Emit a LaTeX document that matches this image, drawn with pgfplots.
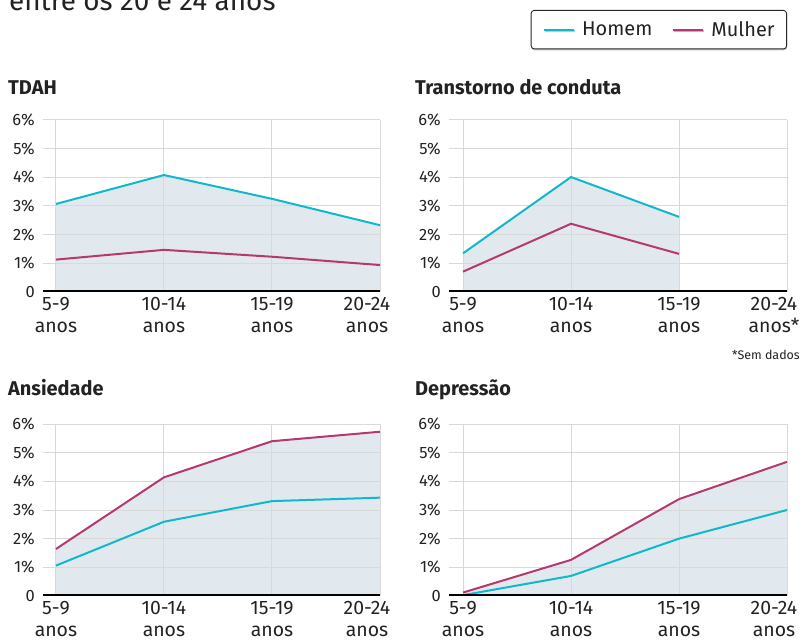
\documentclass[border=0pt]{standalone}
\usepackage{fontspec}
\setmainfont{Fira Sans}
\usepackage{pgfplots}
\usetikzlibrary{shadows}
\pgfplotsset{compat=1.18}
\definecolor{homem}{HTML}{10B8C9}
\definecolor{mulher}{HTML}{B5396F}
\definecolor{shade}{HTML}{E1E9EE}
\definecolor{gridc}{HTML}{D9D9D9}
\definecolor{txt}{HTML}{222222}
\pgfplotsset{
 panel/.style={
  set layers,
  scale only axis, width=337bp, height=172bp,
  anchor=south west,
  xmin=-0.12, xmax=3, ymin=0, ymax=6,
  axis line style={draw=none},
  tick style={draw=none},
  major tick length=0pt,
  xmajorgrids, ymajorgrids,
  grid style={gridc, line width=1bp},
  ytick={0,1,2,3,4,5,6}, yticklabels={0,1\%,2\%,3\%,4\%,5\%,6\%},
  yticklabel style={font=\fontsize{16.5}{18}\selectfont, text=txt, inner sep=0pt, xshift=-8bp},
  xtick={0,1,2}, xticklabels={{5-9\\anos},{10-14\\anos},{15-19\\anos}},
  xticklabel style={font=\fontsize{19.5}{22}\selectfont, text=txt, align=center, inner sep=0pt, yshift=-5bp},
  extra x ticks={3}, extra x tick labels={{20-24\\anos}},
  extra x tick style={grid=major, xticklabel style={xshift=-13bp}},
 },
 hline/.style={homem, line width=2bp},
 mline/.style={mulher, line width=2bp},
 fillp/.style={fill=shade, draw=none, on layer=axis background, forget plot},
}
\begin{document}
\begin{tikzpicture}[x=1bp,y=1bp]
% title (cut off at top)
\node[anchor=base west, font=\fontsize{28}{32}\selectfont, text=txt, inner sep=0pt] at (9bp,630bp) {entre os 20 e 24 anos};
% panel titles
\node[anchor=base west, font=\bfseries\fontsize{20}{24}\selectfont, text=txt, inner sep=0pt] at (8bp,546bp) {TDAH};
\node[anchor=base west, font=\bfseries\fontsize{20}{24}\selectfont, text=txt, inner sep=0pt] at (415bp,546bp) {Transtorno de conduta};
\node[anchor=base west, font=\bfseries\fontsize{20}{24}\selectfont, text=txt, inner sep=0pt] at (8bp,245bp) {Ansiedade};
\node[anchor=base west, font=\bfseries\fontsize{20}{24}\selectfont, text=txt, inner sep=0pt] at (415bp,245bp) {Depressão};
\node[anchor=base east, font=\fontsize{12.5}{14}\selectfont, text=txt, inner sep=0pt] at (800bp,281bp) {*Sem dados};

% TDAH
\begin{axis}[panel, at={(43bp,349bp)}]
\addplot[fillp] coordinates {(0,3.07) (1,4.08) (2,3.25) (3,2.33)} \closedcycle;
\addplot[hline] coordinates {(0,3.07) (1,4.08) (2,3.25) (3,2.33)};
\addplot[mline] coordinates {(0,1.13) (1,1.47) (2,1.23) (3,0.94)};
\draw[black, line width=3bp] (rel axis cs:0,0) -- (rel axis cs:1,0);
\end{axis}

% Transtorno de conduta
\begin{axis}[panel, at={(449bp,349bp)}, width=338bp, xmin=-0.13,
  extra x tick labels={{20-24\\anos*}},
  legend columns=2,
  legend image code/.code={\draw[#1] (0bp,0bp) -- (30bp,0bp);},
  legend style={at={(rel axis cs:1,1)}, anchor=north east, yshift=110bp,
    draw=black!85, line width=0.9bp, rounded corners=3bp, fill=white,
    drop shadow={shadow xshift=0.6bp, shadow yshift=-1.5bp, opacity=0.45},
    font=\fontsize{20}{24}\selectfont, text=txt,
    inner xsep=12bp, inner ysep=11bp,
    nodes={inner sep=0pt},
    /tikz/every odd column/.append style={column sep=7bp},
    /tikz/every even column/.append style={column sep=20bp}},
]
\addplot[fillp] coordinates {(0,1.35) (1,4.01) (2,2.62)} \closedcycle;
\addplot[hline] coordinates {(0,1.35) (1,4.01) (2,2.62)};
\addplot[mline] coordinates {(0,0.71) (1,2.38) (2,1.33)};
\legend{Homem, Mulher}
\draw[black, line width=3bp] (rel axis cs:0,0) -- (rel axis cs:1,0);
\end{axis}

% Ansiedade
\begin{axis}[panel, at={(43bp,45bp)}]
\addplot[fillp] coordinates {(0,1.64) (1,4.14) (2,5.40) (3,5.73)} \closedcycle;
\addplot[hline] coordinates {(0,1.06) (1,2.59) (2,3.31) (3,3.43)};
\addplot[mline] coordinates {(0,1.64) (1,4.14) (2,5.40) (3,5.73)};
\draw[black, line width=3bp] (rel axis cs:0,0) -- (rel axis cs:1,0);
\end{axis}

% Depressao
\begin{axis}[panel, at={(449bp,45bp)}, width=338bp, xmin=-0.13]
\addplot[fillp] coordinates {(0,0.12) (1,1.26) (2,3.38) (3,4.68)} \closedcycle;
\addplot[hline] coordinates {(0,0.03) (1,0.70) (2,2.0) (3,3.0)};
\addplot[mline] coordinates {(0,0.12) (1,1.26) (2,3.38) (3,4.68)};
\draw[black, line width=3bp] (rel axis cs:0,0) -- (rel axis cs:1,0);
\end{axis}

\pgfresetboundingbox
\path[use as bounding box] (0bp,0bp) rectangle (803bp,641bp);
\end{tikzpicture}
\end{document}
